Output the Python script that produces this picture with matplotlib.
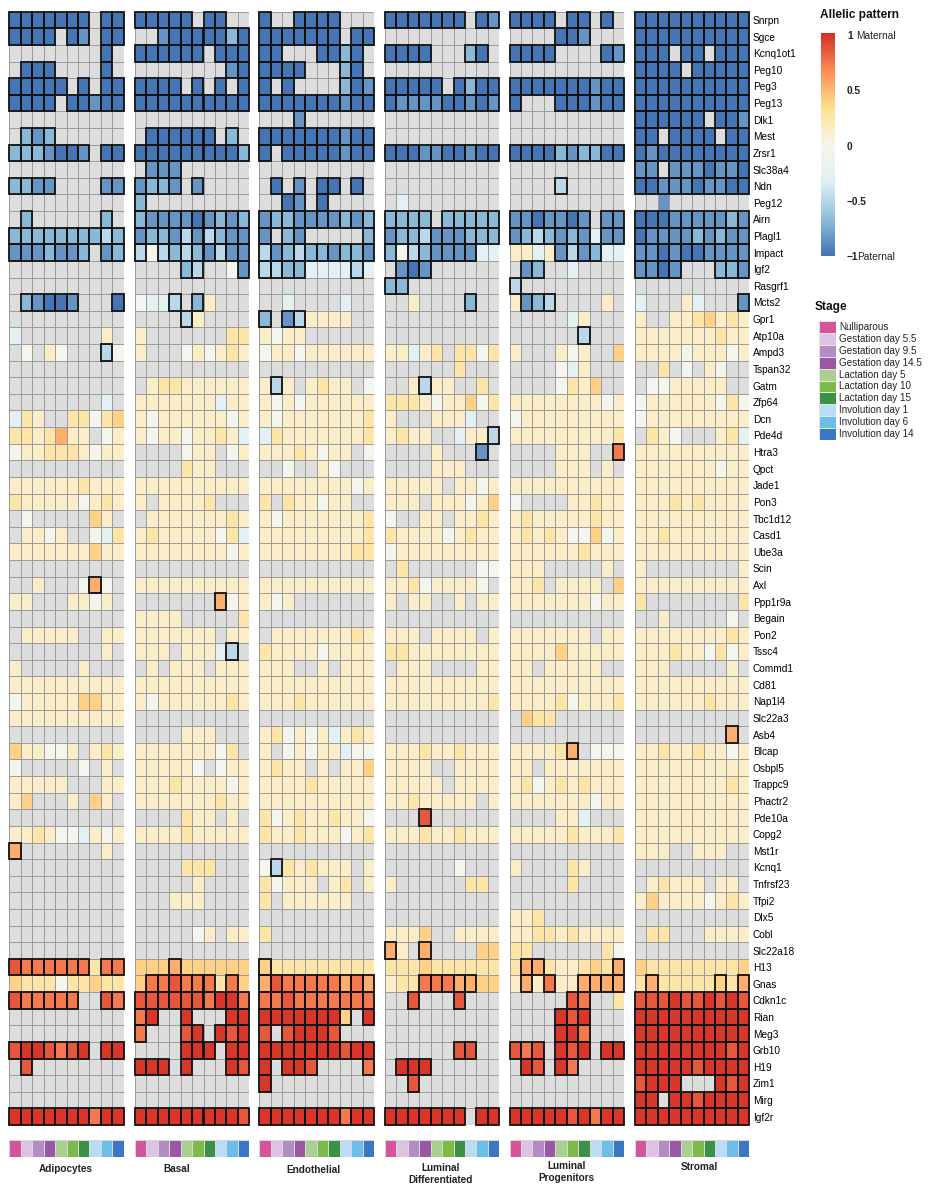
import matplotlib
matplotlib.use('Agg')
import matplotlib.pyplot as plt
import numpy as np
from matplotlib.colors import LinearSegmentedColormap, ListedColormap, Normalize
from matplotlib.patches import Rectangle

plt.rcParams['font.family'] = ['Liberation Sans', 'DejaVu Sans']

genes = ["Snrpn", "Sgce", "Kcnq1ot1", "Peg10", "Peg3", "Peg13", "Dlk1", "Mest", "Zrsr1",
         "Slc38a4", "Ndn", "Peg12", "Airn", "Plagl1", "Impact", "Igf2", "Rasgrf1", "Mcts2",
         "Gpr1", "Atp10a", "Ampd3", "Tspan32", "Gatm", "Zfp64", "Dcn", "Pde4d", "Htra3",
         "Qpct", "Jade1", "Pon3", "Tbc1d12", "Casd1", "Ube3a", "Scin", "Axl", "Ppp1r9a",
         "Begain", "Pon2", "Tssc4", "Commd1", "Cd81", "Nap1l4", "Slc22a3", "Asb4", "Blcap",
         "Osbpl5", "Trappc9", "Phactr2", "Pde10a", "Copg2", "Mst1r", "Kcnq1", "Tnfrsf23",
         "Tfpi2", "Dlx5", "Cobl", "Slc22a18", "H13", "Gnas", "Cdkn1c", "Rian", "Meg3",
         "Grb10", "H19", "Zim1", "Mirg", "Igf2r"]

cell_types = ["Adipocytes", "Basal", "Endothelial", "Luminal\nDifferentiated",
              "Luminal\nProgenitors", "Stromal"]

stages = ["Nulliparous", "Gestation day 5.5", "Gestation day 9.5", "Gestation day 14.5",
          "Lactation day 5", "Lactation day 10", "Lactation day 15", "Involution day 1",
          "Involution day 6", "Involution day 14"]
stage_colors = ["#D4559C", "#DCC3E2", "#B48CC4", "#9A57A6", "#A9D08E", "#7DBB48",
                "#3B9247", "#BADCF4", "#6CBDEA", "#3B77C2"]

# cell codes: '.' = not available; letters = allelic ratio level; upper case = significant
code_values = {'a': -1.0, 'b': -0.85, 'c': -0.68, 'd': -0.5, 'e': -0.28, 'w': -0.05,
               'f': 0.12, 'g': 0.25, 'h': 0.38, 'i': 0.52, 'j': 0.72, 'k': 0.85, 'l': 0.97}

adipocytes = [
    "AAAAAAA.AA", "AAAA.AB.AA", "........A.", ".AAA....A.", "AAAAA.A.AA", "AAAA.AABAA",
    "..........", ".CBC......", "CCCBAAB.AA", "..........", "CCBB....BB", "..........",
    ".C......C.", "CCCCCCCCDC", "BBBCBBC.BC", "..........", "..........", ".CBAAB...A",
    "..........", "e.......f.", ".w.fw...Dw", "..........", "..........", "........e.",
    "egf..ggwgh", "ggfgiff.wf", "wffgggfwff", "..........", "ffffffgfff", "gfffffwfgf",
    ".w.....hf.", ".ffwf..weg", "fffffffhff", "..........", "..f...wIw.", "ff...ffwf.",
    "..........", ".fffff..ff", "........f.", "f.....f...", "ffffffffff", "wfffffhhff",
    "ffffffffff", "..........", "hffwwf.fgf", "w.....w.f.", "fffff...ff", "fh...f.hf.",
    "..........", "ffgfwwefwf", "I.......f.", "..........", "..........", "..........",
    "..........", "..........", "..........", "KJJJJJJgJJ", "hgggwgghgg", "KJJJJJ..KJ",
    "..........", "..........", "KLLKJKL.LL", ".K........", "..........", "..........",
    "LLLLLLLJLL"]

basal = [
    "AAAAA.AA..", "..BAAAAACA", "AAAAAA.AAA", "........BA", "AAAA.A.A.A", "AAAAAAAAAA",
    "..........", ".AAAAAA.C.", "AAAAAAAAAC", ".BBB......", "BCCB.B....", "C.........",
    "CBBBBABCBC", "BCCBDBDCBB", "DwDCDCBDBB", "....CD..wB", "..........", "weeD.Cf...",
    "....Df....", "f.......gg", "f...wfwfgf", "..........", ".fggffffff", "fffffffeff",
    "fwffffffwf", "fwffwffgfe", "....wff.wf", "....gff...", "ffffffffff", "f.ffffg...",
    ".fffffffgf", "fgfffffwge", "ffffffffwf", "..........", "ffffffffff", ".......Iwf",
    "ffff.....g", "fffffff.ff", "fff.fffeD.", ".f.fff.fff", "ffffffffff", "fwffffffgf",
    "..........", "....fff...", "fffffffwg.", "fffffw.wff", "fffgffffwf", "fffffffgff",
    "....gff.f.", "ffffgfffff", "..........", "....ggg...", ".....f....", "...fff....",
    "..........", ".....wf.ff", "..........", "hhhIhhhhhh", "hJJKJJJgJh", "KKKKKKJLLJ",
    "JL..L...LL", "J...KL.LKL", "....LLL.LL", "LLL.L...LK", "..........", "..........",
    "LLLLLLLLLK"]

endothelial = [
    "A..AAAA...", "AAAAAAA.AA", "AA...AACA.", "AAAA...CA.", "A.A....CAB", "AAAAAAABAA",
    "...B......", "AAAAAAABAA", "A.AAAAABAA", "..........", ".A.B.AA.A.", "..AB.A....",
    "BCCBBBBCBC", "B.CB.....C", "DBCDCCBCCB", "DDCCeeeeDe", "..........", "..e....e..",
    "C.BDffff..", "fwff......", "wffwffffff", "..........", "fDf.fgff.w", "fwfwffffff",
    "fwfffffffg", "egfffffffg", "fffgfwff.w", "..w..fw...", "ffffffffwf", "g.gffwff..",
    "fwfffffffg", "fffffffffg", "ffffffffgg", "..........", "ffffffffff", "fwf.......",
    "..........", ".fffffffgf", "gffffwffff", "fff..f.fff", "ffffffffff", "fffgffffff",
    "..........", "fgwfwfefgf", "f.wfwffeww", "fgff.f.ffh", "ffffgfffff", "ffffffffff",
    "gwfgffgffw", "gffgfffwfg", "..........", "wDgfgfff.f", "gwfff.fg.f", "g.ffffff..",
    "..........", "g.........", "..........", "Hggggggggg", "IKJJJJJIJI", "JJKJJJJJJJ",
    "LLLLLLLH.L", "K.KLLLK...", "LLLLLLLKLL", "L.LLK....J", "L.........", "..........",
    "LLLLLLLJLL"]

luminal_diff = [
    "AAAAAAA.AB", "..........", "AAAA...CA.", "..........", "AAAAA.ACAA", "ABBBBAABAB",
    "..........", "..........", "AAABBAABAA", "..........", "..........", ".e........",
    "CCCC.CCCCC", "BCCDBBBCCC", "CwDCBBBBee", ".BAB......", "CC........", "..f....C..",
    "..........", "..........", "ffefg.ggwg", "......g...", "..fDff..g.", "gggfwffhwg",
    "f...fffe..", "fgff..effD", "....f...B.", "....fff...", "fffff.ffwf", "fff.fffwfh",
    "w..ff.ffgf", "gffffwfgff", "wfffffffff", ".g......ww", "ffgwffffw.", "f.ff..f.ff",
    "..........", "fff.ffff.f", "ggffffffff", ".fff....ff", "ffffffffff", "fffffffffg",
    "..........", "..........", "fffgffgfff", "ffff..ffff", "fffff.ffff", "ffgfffff.f",
    "...K......", "fffgffgfff", "..........", "......w...", "f......gg.", "..........",
    "..........", "fffh..ffff", "If.I....hh", "ggghgggggg", "fggJJJIIhh", "..K...K...",
    "..........", "..........", "......KK..", ".LLL......", "..K.......", "..........",
    "LLLLLLL.LL"]

luminal_prog = [
    "AAAA.AA.A.", "....AAB...", "AAAA....AB", "..........", "AAAAAAABAA", "A...AAABAA",
    "..........", "..........", "AAAACBCCAA", "..........", "....D.....", "..........",
    "BBABBAB.BB", "BCDCBCBeBB", "ffefBDBCee", ".BC..e....", "D.........", "fBCD....f.",
    ".....ef...", "......D...", "f...fwf..h", "....wef...", "....wgfh..", "ffffffffwf",
    "wfffffffff", "fffffffffg", "....fff..J", "....fff.f.", "ffffffffff", "w....ffgff",
    "fgfffffgff", "fgfgfwwhwf", "ffffffgfff", "fff.....f.", "ffg.ffff.h", "fffffffwff",
    "..........", "fffffff.ff", "ffffhfffff", "ff.fffff..", "ffffffffff", "ffffgwfffg",
    ".hgg......", "..........", "ffffgI.www", "ff.fffffff", "fgwfgfgfff", "fffffffwff",
    "....ffe...", "fffffgfffg", "..........", "f....gf...", ".....g....", "..........",
    "ffg.......", "ffggfgffff", "gg......gw", "gIIgffghgI", "fIfJffIIII", ".....KJ..g",
    "....LKL...", "....LLJ...", "KJK.LKL.LL", ".LK.LJ....", "..........", "..........",
    "LLLLLKLJLL"]

stromal = [
    "AAAAAAAAAA", "AAAAAAAAAA", "AAA.AA.AAA", "AAAA.AAAAA", "AAAAAAAAAA", "AAAAAAAAAA",
    "AAAAAA.AAB", "AA.AAAA.AA", "ABAAAAAAAA", "BB.BBBABBA", "AABBBABBAA", "..b.......",
    "AAABBBBBCB", "ABBBBCBCBB", "BBABAABBBB", "BBAB...CCB", "..........", "e...fe...B",
    "f..ffghfgf", "fffffffgff", "ffffwfffwf", "..g.w.fw..", ".wwfffff..", "wffffffwgw",
    "wfffffffff", ".gfw...fge", "ffffffffff", "fffffffwff", "ffffffffff", "fffgfgffff",
    "ffffffffff", "ffgfffffff", "ffffffffff", "f........f", "ffffffffff", "g........g",
    "..f.....w.", "ffffffffgf", "fffgffwgwf", "fff.....f.", "ffffffffff", "ffffffgfff",
    "..........", "........I.", "ffgffgffwf", "ffffffffff", "ffffffffgf", "ffffffffff",
    "ffffffffff", "ffffffffff", "fff..fff..", "..........", ".fgfff.ff.", "fhffffwfgf",
    "..........", ".gg...ffff", "..........", "hggggggggh", "gIgggggHgI", "KKKLKKLKLK",
    "LLLLLLLLLL", "LLLLLLLLLL", "LLLLLLLLKL", "LLLLLKLLLL", "KLLL...LKL", "LL.LLKLLLL",
    "LLLLLLLLLL"]

panels = [adipocytes, basal, endothelial, luminal_diff, luminal_prog, stromal]

W, H = 929, 1200
fig = plt.figure(figsize=(W / 100, H / 100), dpi=100)
fig.patch.set_facecolor('white')


def px_axes(x, y, w, h):
    return fig.add_axes([x / W, 1 - (y + h) / H, w / W, h / H])


def decode(rows):
    vals = np.full((len(rows), len(rows[0])), np.nan)
    sig = np.zeros(vals.shape, dtype=bool)
    for i, r in enumerate(rows):
        for j, ch in enumerate(r):
            if ch == '.':
                continue
            vals[i, j] = code_values[ch.lower()]
            sig[i, j] = ch.isupper()
    return vals, sig


cmap = LinearSegmentedColormap.from_list(
    'rdylbu_r', ['#4575B4', '#91BFDB', '#E0F0F6', '#F7F6EA', '#FEE090', '#FC8D59', '#D73027'], N=100)
norm = Normalize(-1, 1)
na_cmap = ListedColormap(['#DDDDDD'])
stage_cmap = ListedColormap(stage_colors)

panel_x = [9.3, 134.8, 259.5, 384.8, 509.5, 634.8]
panel_w = 114.5
hm_top, hm_h = 11.7, 1113.3
n_rows, n_cols = len(genes), len(stages)

label_x = [66, 177, 313, 440.5, 566.5, 699.5]
label_y = [1169, 1169, 1170, 1174, 1172, 1167]

for k, rows in enumerate(panels):
    vals, sig = decode(rows)
    ax = px_axes(panel_x[k], hm_top, panel_w, hm_h)
    xe = np.arange(n_cols + 1)
    ye = np.arange(n_rows + 1)
    ax.pcolormesh(xe, ye, np.zeros((n_rows, n_cols)), cmap=na_cmap, vmin=0, vmax=1,
                  edgecolors='#9C9C9C', linewidth=0.6)
    ax.pcolormesh(xe, ye, np.ma.masked_invalid(vals), cmap=cmap, norm=norm,
                  edgecolors='#9C9C9C', linewidth=0.6)
    for (r, c) in zip(*np.nonzero(sig)):
        ax.add_patch(Rectangle((c, r), 1, 1, fill=False, ec='#111111', lw=1.3,
                               zorder=3, clip_on=False))
    ax.set_xlim(0, n_cols)
    ax.set_ylim(n_rows, 0)
    for s in ax.spines.values():
        s.set_visible(False)
    ax.set_xticks([])
    if k == len(panels) - 1:
        ax.set_yticks(np.arange(n_rows) + 0.5)
        ax.set_yticklabels(genes, fontsize=7.3)
        ax.yaxis.tick_right()
        ax.tick_params(axis='y', length=0, pad=2.5)
    else:
        ax.set_yticks([])

    sax = px_axes(panel_x[k], 1140, panel_w, 16.7)
    sax.pcolormesh(np.arange(n_cols + 1), [0, 1], np.arange(n_cols)[None, :], cmap=stage_cmap,
                   vmin=-0.5, vmax=n_cols - 0.5, edgecolors='#D8D8D8', linewidth=0.5)
    sax.set_xlim(0, n_cols)
    sax.set_ylim(0, 1)
    sax.set_axis_off()

    fig.text(label_x[k] / W, 1 - label_y[k] / H, cell_types[k], ha='center', va='center',
             fontsize=7.2, fontweight='bold', color='#222222', linespacing=1.15)

# colour legend
fig.text(820 / W, 1 - 15 / H, "Allelic pattern", ha='left', va='center', fontsize=8.6,
         fontweight='bold', color='#111111')
cax = px_axes(821, 33, 14, 223)
cax.imshow(np.linspace(1, -1, 200)[:, None], aspect='auto', cmap=cmap, norm=norm,
           extent=[0, 1, -1, 1])
cax.set_axis_off()
tick_vals = [1, 0.5, 0, -0.5, -1]
tick_txt = ["1", "0.5", "0", "\u22120.5", "\u22121"]
for v, t in zip(tick_vals, tick_txt):
    y = 146.5 - 110.5 * v
    fig.text(847 / W, 1 - y / H, t, ha='left', va='center', fontsize=7.3,
             fontweight='bold', color='#222222')
fig.text(856 / W, 1 - 36 / H, "Maternal", ha='left', va='center', fontsize=7.3, color='#222222')
fig.text(857.5 / W, 1 - 257 / H, "Paternal", ha='left', va='center', fontsize=7.3, color='#222222')

# stage legend
fig.text(815 / W, 1 - 307 / H, "Stage", ha='left', va='center', fontsize=8.6,
         fontweight='bold', color='#111111')
box_h = 11.9
lax = px_axes(819, 321, 17, box_h * n_cols)
lax.pcolormesh([0, 1], np.arange(n_cols + 1), np.arange(n_cols)[:, None], cmap=stage_cmap,
               vmin=-0.5, vmax=n_cols - 0.5, edgecolors='#E4E4E4', linewidth=0.5)
lax.set_ylim(n_cols, 0)
lax.set_xlim(0, 1)
lax.set_axis_off()
for i, s in enumerate(stages):
    fig.text(839 / W, 1 - (321 + box_h * (i + 0.5)) / H, s, ha='left', va='center',
             fontsize=7.1, color='#222222')

fig.savefig('out.png', dpi=100, facecolor='white')
